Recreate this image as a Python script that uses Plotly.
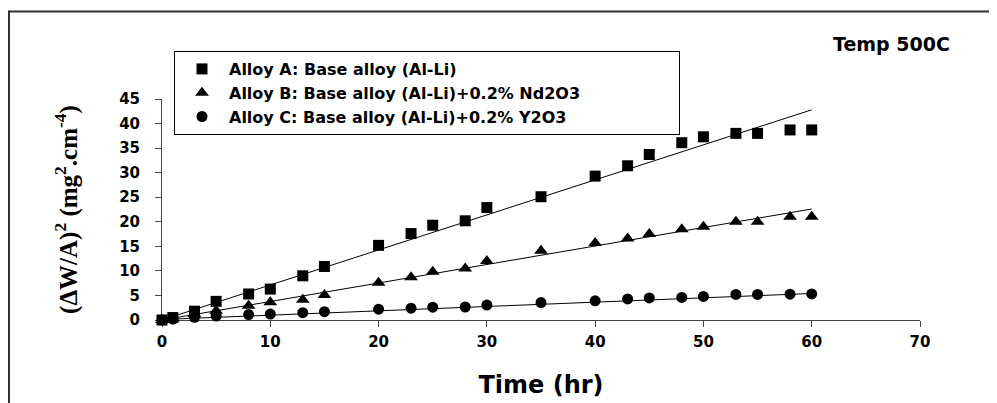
import plotly.graph_objects as go

# ---- data ----
time_hr = [0, 1, 3, 5, 8, 10, 13, 15, 20, 23, 25, 28, 30, 35, 40, 43, 45, 48, 50, 53, 55, 58, 60]
alloy_a = [0, 0.5, 1.8, 3.8, 5.3, 6.3, 9.0, 10.9, 15.2, 17.6, 19.3, 20.2, 22.9, 25.1, 29.3, 31.4,
           33.7, 36.1, 37.3, 38.0, 38.0, 38.7, 38.7]
alloy_b = [0, 0.3, 1.2, 1.9, 2.9, 3.6, 4.1, 5.1, 7.6, 8.7, 9.8, 10.5, 12.0, 14.1, 15.7, 16.6,
           17.5, 18.5, 19.0, 20.0, 20.0, 21.0, 21.0]
alloy_c = [0, 0.2, 0.55, 0.8, 1.1, 1.2, 1.5, 1.7, 2.2, 2.4, 2.6, 2.65, 3.05, 3.55, 3.9, 4.3,
           4.5, 4.6, 4.8, 5.2, 5.2, 5.25, 5.3]

trend_x = [0, 60]
trend_a = [0.0, 42.8]
trend_b = [0.0, 22.6]
trend_c = [0.1, 5.4]

names = ["Alloy A: Base alloy (Al-Li)",
         "Alloy B: Base alloy (Al-Li)+0.2% Nd2O3",
         "Alloy C: Base alloy (Al-Li)+0.2% Y2O3"]
x_ticks = [0, 10, 20, 30, 40, 50, 60, 70]
y_ticks = [0, 5, 10, 15, 20, 25, 30, 35, 40, 45]

SANS = "DejaVu Sans"
SERIF = "Liberation Serif"

fig = go.Figure()

for ty in (trend_a, trend_b, trend_c):
    fig.add_trace(go.Scatter(x=trend_x, y=ty, mode="lines",
                             line=dict(color="black", width=1),
                             showlegend=False, hoverinfo="skip", cliponaxis=False))

for ys, sym, sz, nm in ((alloy_a, "square", 11, names[0]),
                        (alloy_b, "triangle-up", 12, names[1]),
                        (alloy_c, "circle", 11, names[2])):
    fig.add_trace(go.Scatter(x=time_hr, y=ys, mode="markers", name=nm,
                             marker=dict(symbol=sym, size=sz, color="black",
                                         line=dict(width=0)),
                             cliponaxis=False))

# the page body has an 8px margin, so the figure is laid out 8px in from the window edge
OFF = 8
W, H = 997 - OFF, 403 - OFF
L, R, T, B = 162 - OFF, 77, 99 - OFF, 83
pw, ph = W - L - R, H - T - B


def px(p):
    return (p - OFF - L) / pw


def py(p):
    return (H - B - (p - OFF)) / ph


shapes = [
    # outer frame (top and left edges)
    dict(type="line", xref="paper", yref="paper", x0=px(9), x1=px(1010), y0=py(11.5), y1=py(11.5),
         line=dict(color="#333333", width=2)),
    dict(type="line", xref="paper", yref="paper", x0=px(9), x1=px(9), y0=py(10.5), y1=py(410),
         line=dict(color="#333333", width=2)),
]

fig.update_layout(
    width=W, height=H,
    margin=dict(l=L, r=R, t=T, b=B, autoexpand=False),
    paper_bgcolor="white", plot_bgcolor="white",
    font=dict(family=SANS, size=15, color="black", weight="bold"),
    shapes=shapes,
    showlegend=True,
    legend=dict(x=px(174), y=py(51), xanchor="left", yanchor="top",
                orientation="h", entrywidth=445, itemwidth=44,
                bgcolor="white", bordercolor="black", borderwidth=1,
                font=dict(family=SANS, size=16, color="black", weight="bold"),
                tracegroupgap=0, itemsizing="trace"),
    annotations=[dict(text="Temp 500C", xref="paper", yref="paper",
                      x=px(952), y=py(44), xanchor="right", yanchor="middle",
                      showarrow=False,
                      font=dict(family=SANS, size=19, color="black", weight="bold"))],
)

fig.update_xaxes(range=[0, 70], tickvals=x_ticks, ticktext=[str(v) for v in x_ticks],
                 showgrid=False, zeroline=False, showline=True, linecolor="#444444", linewidth=1,
                 ticks="outside", ticklen=6, tickcolor="#444444", tickwidth=1,
                 tickfont=dict(family=SANS, size=15, color="black", weight="bold"),
                 ticklabelstandoff=2, layer="below traces",
                 title=dict(text="Time (hr)", standoff=26,
                            font=dict(family=SANS, size=24, color="black", weight="bold")))

fig.update_yaxes(range=[0, 45], tickvals=y_ticks, ticktext=[str(v) for v in y_ticks],
                 showgrid=False, zeroline=False, showline=True, linecolor="#444444", linewidth=1,
                 ticks="outside", ticklen=6, tickcolor="#444444", tickwidth=1,
                 tickfont=dict(family=SANS, size=15, color="black", weight="bold"),
                 ticklabelstandoff=12, layer="below traces",
                 title=dict(text="(ΔW/A)<sup>2</sup> (mg<sup>2</sup>.cm<sup>-4</sup>)", standoff=34,
                            font=dict(family=SERIF, size=25, color="black", weight="bold")))

fig.write_html("out.html")
